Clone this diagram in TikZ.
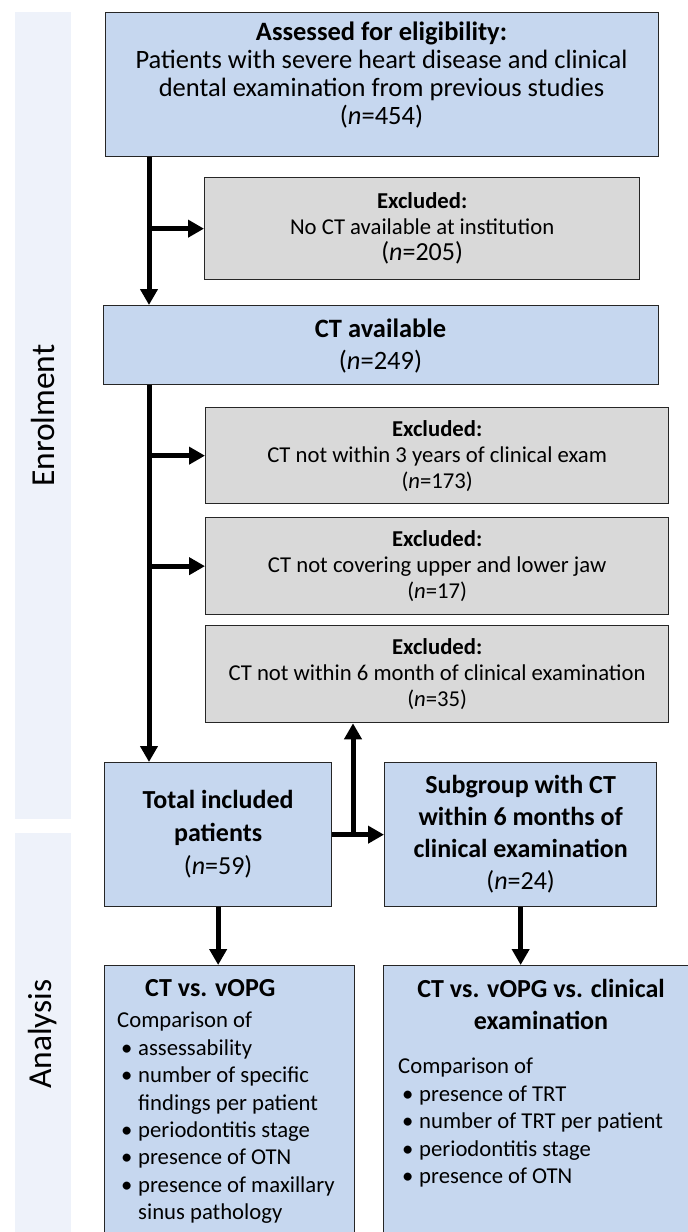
\documentclass[tikz,border=0pt]{standalone}
\usepackage{fontspec}
\setmainfont{Carlito}
\usepackage{xcolor}
\usepackage{tikz}
\usetikzlibrary{arrows.meta}

\definecolor{boxblue}{HTML}{C6D7EF}
\definecolor{boxgray}{HTML}{D9D9D9}
\definecolor{barblue}{HTML}{EEF2FA}
\definecolor{edgegray}{HTML}{262626}

\newcommand{\blt}{\makebox[21pt][l]{\hspace{4pt}\textbullet}}
\newcommand{\fs}[2]{\fontsize{#1pt}{#2pt}\selectfont}

\tikzset{
  x=1pt, y=-1pt,
  frame/.style={draw=edgegray, line width=1.3pt, anchor=north west, inner sep=0pt},
  bluebox/.style={frame, fill=boxblue},
  graybox/.style={frame, fill=boxgray},
  sidebar/.style={fill=barblue, anchor=north west, inner sep=0pt},
  sidelabel/.style={rotate=90, font=\fs{33.5}{38}},
  txt/.style={align=center, inner sep=0pt},
  listtxt/.style={align=left, anchor=north west, inner sep=0pt, font=\fs{22.7}{27.4}},
  arr/.style={line width=5pt, -{Triangle[length=16pt,width=17pt]}}
}

\begin{document}
\begin{tikzpicture}
  \useasboundingbox (0,0) rectangle (688,1232);

  % phase bars
  \node[sidebar, minimum width=56pt, minimum height=807pt] (barenrol) at (15,12) {};
  \node[sidebar, minimum width=56pt, minimum height=420pt] (baranaly) at (15,833) {};
  \node[sidelabel] (labenrol) at (barenrol.center) {Enrolment};
  \node[sidelabel] (labanaly) at (43,1034) {Analysis};

  % boxes
  \node[bluebox, minimum width=553pt, minimum height=144pt] (assess) at (105,12) {};
  \node[graybox, minimum width=435pt, minimum height=102pt] (excl1) at (204,177) {};
  \node[bluebox, minimum width=555pt, minimum height=79pt] (ctavail) at (103,305) {};
  \node[graybox, minimum width=463pt, minimum height=96pt] (excl2) at (205,407) {};
  \node[graybox, minimum width=463pt, minimum height=97pt] (excl3) at (205,517) {};
  \node[graybox, minimum width=463pt, minimum height=97pt] (excl4) at (205,625) {};
  \node[bluebox, minimum width=227pt, minimum height=144pt] (total) at (104,762) {};
  \node[bluebox, minimum width=272pt, minimum height=144pt] (subgroup) at (384,762) {};
  \node[bluebox, minimum width=250pt, minimum height=290pt] (resleft) at (104,965) {};
  \node[bluebox, minimum width=317pt, minimum height=290pt] (resright) at (383,965) {};

  % box texts
  \node[txt, font=\fs{26.5}{28}] (assesstxt) at (381.5,75)
    {\textbf{Assessed for eligibility:}\\Patients with severe heart disease and clinical\\dental examination from previous studies\\(\textit{n}=454)};
  \node[txt, font=\fs{22.7}{26}] (excl1txt) at (excl1.center)
    {\textbf{Excluded:}\\No CT available at institution\\{\fs{26}{26}(\textit{n}=205)}};
  \node[txt, font=\fs{26.5}{32}] (ctavailtxt) at (380.5,346)
    {\textbf{CT available}\\(\textit{n}=249)};
  \node[txt, font=\fs{22.7}{26}] (excl2txt) at (excl2.center)
    {\textbf{Excluded:}\\CT not within 3 years of clinical exam\\(\textit{n}=173)};
  \node[txt, font=\fs{22.7}{26}] (excl3txt) at (excl3.center)
    {\textbf{Excluded:}\\CT not covering upper and lower jaw\\(\textit{n}=17)};
  \node[txt, font=\fs{22.7}{26}] (excl4txt) at (excl4.center)
    {\textbf{Excluded:}\\CT not within 6 month of clinical examination\\(\textit{n}=35)};
  \node[txt, font=\fs{26}{33}] (totaltxt) at (total.center)
    {\textbf{Total included}\\\textbf{patients}\\(\textit{n}=59)};
  \node[txt, font=\fs{26}{32}] (subgrouptxt) at (subgroup.center)
    {\textbf{Subgroup with CT}\\\textbf{within 6 months of}\\\textbf{clinical examination}\\(\textit{n}=24)};

  % analysis texts
  \node[txt, anchor=west, font=\fs{26}{32}] (resleftttl) at (145,988) {\textbf{CT vs. vOPG}};
  \node[listtxt] (resleftlist) at (117,1012)
    {Comparison of\\
     \blt assessability\\
     \blt number of specific\\
     \hspace*{21pt}findings per patient\\
     \blt periodontitis stage\\
     \blt presence of OTN\\
     \blt presence of maxillary\\
     \hspace*{21pt}sinus pathology};
  \node[txt, font=\fs{26}{32}] (resrightttl) at (541,1004)
    {\textbf{CT vs. vOPG vs. clinical}\\\textbf{examination}};
  \node[listtxt] (resrightlist) at (398,1058)
    {Comparison of\\
     \blt presence of TRT\\
     \blt number of TRT per patient\\
     \blt periodontitis stage\\
     \blt presence of OTN};

  % connectors
  \coordinate (trunk) at (149,0);
  \coordinate (split) at (353,834);
  \draw[arr] (assess.south -| trunk) -- (ctavail.north -| trunk);
  \draw[arr] (excl1.west -| trunk) -- (excl1.west);
  \draw[arr] (ctavail.south -| trunk) -- (total.north -| trunk);
  \draw[arr] (excl2.west -| trunk) -- (excl2.west);
  \draw[arr] (excl3.west -| trunk) -- (excl3.west);
  \draw[arr] (total.east) -- (subgroup.west);
  \draw[arr] (split) -- (excl4.south -| split);
  \draw[arr] (total.south) -- (total.south |- resleft.north);
  \draw[arr] (subgroup.south) -- (subgroup.south |- resright.north);

\end{tikzpicture}
\end{document}
